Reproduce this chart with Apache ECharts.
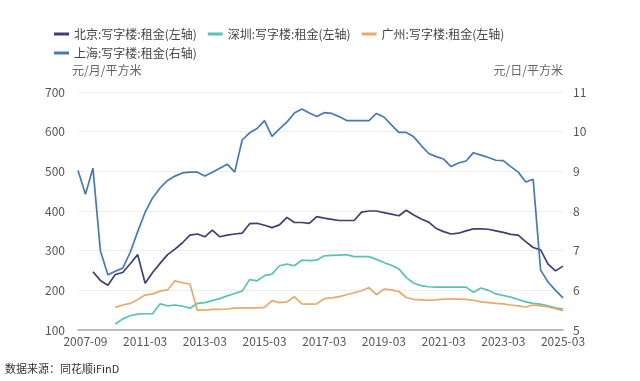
<!DOCTYPE html>
<html><head><meta charset="utf-8">
<script src="https://cdn.jsdelivr.net/npm/echarts@6/dist/echarts.min.js"></script>
<style>html,body{margin:0;padding:0;background:#fff}#c{width:640px;height:381px}</style>
</head><body><div id="c"></div>
<script>
const categories = ['2007-06','2007-09','2008-03','2008-09','2009-03','2009-09','2010-03','2010-09','2010-12',
'2011-03','2011-06','2011-09','2011-12','2012-03','2012-06','2012-09','2012-12',
'2013-03','2013-06','2013-09','2013-12','2014-03','2014-06','2014-09','2014-12',
'2015-03','2015-06','2015-09','2015-12','2016-03','2016-06','2016-09','2016-12',
'2017-03','2017-06','2017-09','2017-12','2018-03','2018-06','2018-09','2018-12',
'2019-03','2019-06','2019-09','2019-12','2020-03','2020-06','2020-09','2020-12',
'2021-03','2021-06','2021-09','2021-12','2022-03','2022-06','2022-09','2022-12',
'2023-03','2023-06','2023-09','2023-12','2024-03','2024-06','2024-09','2024-12','2025-03'];

const beijing = [null,null,247,225,213,240,245,267,290,218,245,268,290,304,320,339,342,335,352,335,339,342,344,368,369,364,358,365,384,371,371,369,386,382,379,376,376,376,397,400,400,396,392,388,402,390,380,372,356,348,342,344,350,355,355,354,350,346,341,339,323,308,302,266,249,261];
const shenzhen = [null,null,null,null,null,115,128,136,140,141,141,166,161,163,160,155,167,169,174,179,186,192,198,227,224,237,241,262,266,262,276,275,276,287,288,289,290,285,285,285,278,270,263,254,232,218,212,209,208,208,208,208,208,195,206,200,191,187,183,177,171,167,165,161,156,153];
const guangzhou = [null,null,null,null,null,157,163,167,177,188,191,198,201,224,219,216,150,150,152,152,153,155,156,156,156,157,174,169,171,184,166,165,166,179,181,184,189,194,199,207,189,203,201,197,182,177,176,175,176,178,178,178,177,175,171,169,167,166,163,161,158,163,161,158,154,149];
const shanghai = [9.02,8.42,9.08,7.0,6.39,6.48,6.56,6.96,7.48,7.97,8.33,8.58,8.77,8.88,8.96,8.98,8.98,8.88,8.98,9.08,9.18,8.98,9.79,9.97,10.08,10.28,9.88,10.07,10.24,10.47,10.57,10.47,10.38,10.48,10.46,10.38,10.28,10.28,10.28,10.28,10.46,10.37,10.17,9.98,9.98,9.87,9.65,9.45,9.37,9.31,9.12,9.21,9.26,9.47,9.41,9.35,9.28,9.27,9.12,8.98,8.73,8.80,6.51,6.21,6.0,5.81];

const seriesNames = ['北京:写字楼:租金(左轴)','深圳:写字楼:租金(左轴)','广州:写字楼:租金(左轴)','上海:写字楼:租金(右轴)'];
const colors = ['#3e4170','#5cc2b1','#e9a86c','#4a78b3'];
const leftTicks = {min:100,max:700,interval:100};
const rightTicks = {min:5,max:11,interval:1};
const leftUnit = '元/月/平方米';
const rightUnit = '元/日/平方米';
const sourceText = '数据来源：同花顺iFinD';

const FONT = '"Noto Sans CJK SC","Noto Sans",sans-serif';
const chart = echarts.init(document.getElementById('c'), null, {renderer:'canvas'});
const mk = (name, data, color, yIdx) => ({
  name, type:'line', data, yAxisIndex:yIdx, showSymbol:false, symbol:'none',
  lineStyle:{color, width:1.7}, itemStyle:{color}, connectNulls:false, animation:false
});
chart.setOption({
  animation:false,
  color: colors,
  textStyle:{fontFamily:FONT},
  legend:[
    {data:seriesNames.slice(0,3), left:49, top:23, icon:'rect', itemWidth:15, itemHeight:3, itemGap:11,
     textStyle:{fontSize:12, color:'#444', fontFamily:FONT}},
    {data:[seriesNames[3]], left:49, top:42, icon:'rect', itemWidth:15, itemHeight:3,
     textStyle:{fontSize:12, color:'#444', fontFamily:FONT}}
  ],
  grid:{left:78, right:77, top:92, bottom:51, containLabel:false},
  xAxis:{type:'category', data:categories, boundaryGap:false,
    axisLine:{lineStyle:{color:'#a8a8a8', width:1.5}},
    axisTick:{show:false},
    axisLabel:{interval:(i)=> i % 8 === 1, color:'#555', fontSize:12, margin:5, fontFamily:FONT, showMaxLabel:true}
  },
  yAxis:[
    {type:'value', min:leftTicks.min, max:leftTicks.max, interval:leftTicks.interval,
     name:leftUnit, nameLocation:'end', nameGap:16, nameTextStyle:{align:'left', color:'#666', fontSize:12, padding:[0,0,0,-6]},
     axisLine:{show:false}, axisTick:{show:false},
     axisLabel:{color:'#555', fontSize:12, margin:13},
     splitLine:{lineStyle:{color:'#eeeeee', width:1}}},
    {type:'value', min:rightTicks.min, max:rightTicks.max, interval:rightTicks.interval,
     name:rightUnit, nameLocation:'end', nameGap:16, nameTextStyle:{align:'right', color:'#666', fontSize:12, padding:[0,0,0,0]},
     axisLine:{show:false}, axisTick:{show:false},
     axisLabel:{color:'#555', fontSize:12, margin:10},
     splitLine:{show:false}}
  ],
  graphic:[{type:'text', left:5, top:363, style:{text:sourceText, fill:'#333', font:'11px '+FONT}}],
  series:[
    mk(seriesNames[0], beijing, colors[0], 0),
    mk(seriesNames[1], shenzhen, colors[1], 0),
    mk(seriesNames[2], guangzhou, colors[2], 0),
    mk(seriesNames[3], shanghai, colors[3], 1)
  ]
});
</script></body></html>
